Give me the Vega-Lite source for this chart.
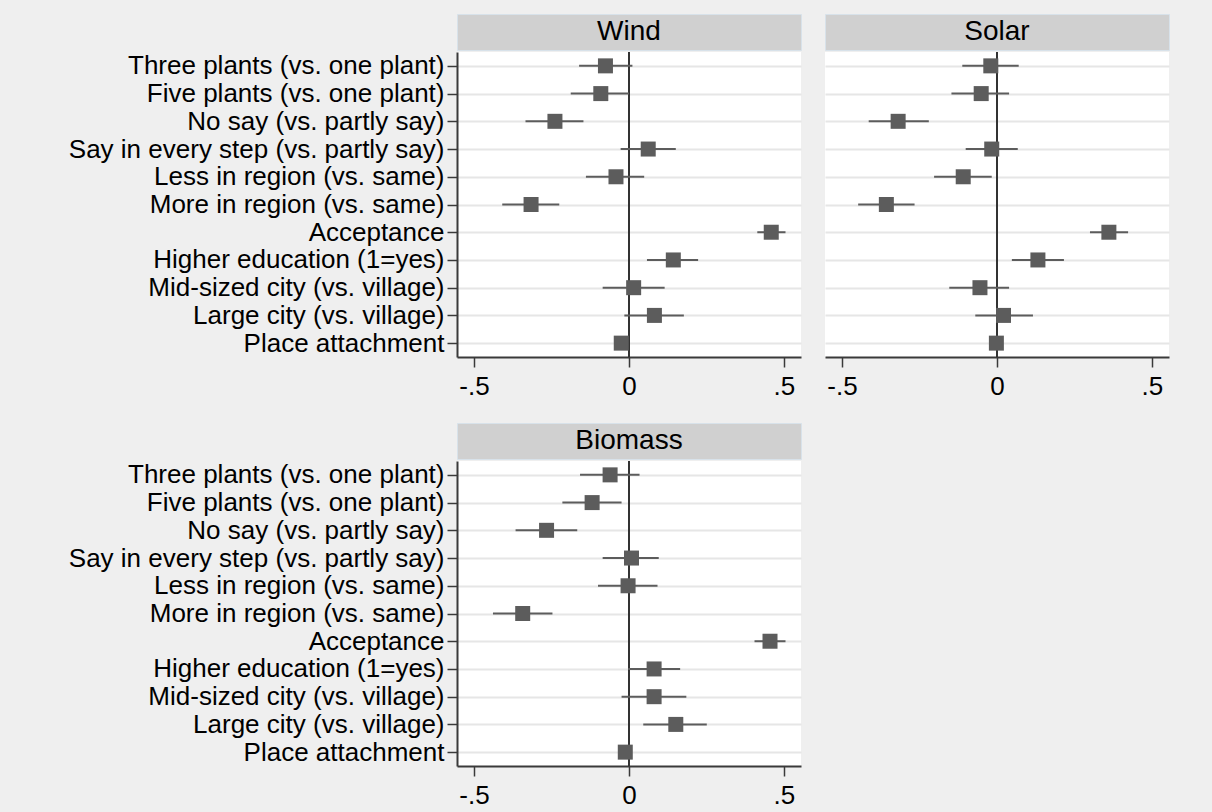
{
  "$schema": "https://vega.github.io/schema/vega-lite/v6.json",
  "background": "#efefef",
  "padding": {"left": 68, "top": 13, "right": 44, "bottom": 8},
  "config": {
    "font": "Liberation Sans",
    "axisY": {"grid": true, "gridColor": "#e6e6e6", "gridWidth": 2, "tickSize": 10, "labelPadding": 3, "labelFontSize": 26, "labelColor": "#000000", "domainColor": "#3a3a3a", "domainWidth": 2, "tickColor": "#3a3a3a", "tickWidth": 1.5, "labelLimit": 600, "title": null},
    "axisX": {"grid": false, "tickSize": 10, "labelPadding": 6, "labelFontSize": 26, "labelColor": "#000000", "domainColor": "#3a3a3a", "domainWidth": 2, "tickColor": "#3a3a3a", "tickWidth": 1.5, "title": null}
  },
  "datasets": {
    "coef": [
      {"panel": "Wind", "term": "Three plants (vs. one plant)", "b": -0.076, "lo": -0.161, "hi": 0.011},
      {"panel": "Wind", "term": "Five plants (vs. one plant)", "b": -0.091, "lo": -0.188, "hi": 0.0},
      {"panel": "Wind", "term": "No say (vs. partly say)", "b": -0.239, "lo": -0.334, "hi": -0.147},
      {"panel": "Wind", "term": "Say in every step (vs. partly say)", "b": 0.062, "lo": -0.027, "hi": 0.151},
      {"panel": "Wind", "term": "Less in region (vs. same)", "b": -0.042, "lo": -0.139, "hi": 0.049},
      {"panel": "Wind", "term": "More in region (vs. same)", "b": -0.316, "lo": -0.409, "hi": -0.225},
      {"panel": "Wind", "term": "Acceptance", "b": 0.459, "lo": 0.414, "hi": 0.505},
      {"panel": "Wind", "term": "Higher education (1=yes)", "b": 0.143, "lo": 0.058, "hi": 0.223},
      {"panel": "Wind", "term": "Mid-sized city (vs. village)", "b": 0.015, "lo": -0.085, "hi": 0.115},
      {"panel": "Wind", "term": "Large city (vs. village)", "b": 0.082, "lo": -0.015, "hi": 0.177},
      {"panel": "Wind", "term": "Place attachment", "b": -0.025, "lo": -0.035, "hi": -0.015},
      {"panel": "Solar", "term": "Three plants (vs. one plant)", "b": -0.02, "lo": -0.112, "hi": 0.07},
      {"panel": "Solar", "term": "Five plants (vs. one plant)", "b": -0.051, "lo": -0.147, "hi": 0.039},
      {"panel": "Solar", "term": "No say (vs. partly say)", "b": -0.319, "lo": -0.414, "hi": -0.22},
      {"panel": "Solar", "term": "Say in every step (vs. partly say)", "b": -0.017, "lo": -0.101, "hi": 0.067},
      {"panel": "Solar", "term": "Less in region (vs. same)", "b": -0.109, "lo": -0.203, "hi": -0.017},
      {"panel": "Solar", "term": "More in region (vs. same)", "b": -0.357, "lo": -0.448, "hi": -0.266},
      {"panel": "Solar", "term": "Acceptance", "b": 0.361, "lo": 0.3, "hi": 0.423},
      {"panel": "Solar", "term": "Higher education (1=yes)", "b": 0.132, "lo": 0.048, "hi": 0.216},
      {"panel": "Solar", "term": "Mid-sized city (vs. village)", "b": -0.055, "lo": -0.154, "hi": 0.039},
      {"panel": "Solar", "term": "Large city (vs. village)", "b": 0.021, "lo": -0.07, "hi": 0.116},
      {"panel": "Solar", "term": "Place attachment", "b": -0.002, "lo": -0.012, "hi": 0.008},
      {"panel": "Biomass", "term": "Three plants (vs. one plant)", "b": -0.061, "lo": -0.158, "hi": 0.034},
      {"panel": "Biomass", "term": "Five plants (vs. one plant)", "b": -0.119, "lo": -0.215, "hi": -0.024},
      {"panel": "Biomass", "term": "No say (vs. partly say)", "b": -0.266, "lo": -0.366, "hi": -0.167},
      {"panel": "Biomass", "term": "Say in every step (vs. partly say)", "b": 0.008, "lo": -0.085, "hi": 0.096},
      {"panel": "Biomass", "term": "Less in region (vs. same)", "b": -0.003, "lo": -0.1, "hi": 0.092},
      {"panel": "Biomass", "term": "More in region (vs. same)", "b": -0.343, "lo": -0.439, "hi": -0.247},
      {"panel": "Biomass", "term": "Acceptance", "b": 0.455, "lo": 0.405, "hi": 0.505},
      {"panel": "Biomass", "term": "Higher education (1=yes)", "b": 0.081, "lo": -0.003, "hi": 0.165},
      {"panel": "Biomass", "term": "Mid-sized city (vs. village)", "b": 0.081, "lo": -0.024, "hi": 0.185},
      {"panel": "Biomass", "term": "Large city (vs. village)", "b": 0.151, "lo": 0.046, "hi": 0.251},
      {"panel": "Biomass", "term": "Place attachment", "b": -0.012, "lo": -0.02, "hi": -0.004}
    ]
  },
  "spacing": 23,
  "vconcat": [
    {
      "spacing": 22,
      "hconcat": [
        {
          "spacing": 0,
          "vconcat": [
            {"width": 344, "height": 36, "view": {"fill": "#d0d0d0", "stroke": "#d8e2ea"}, "data": {"values": [{"title": "Wind"}]}, "mark": {"type": "text", "fontSize": 28, "color": "#000000", "baseline": "middle", "align": "center"}, "encoding": {"text": {"field": "title"}}},
            {
              "width": 344, "height": 305, "view": {"fill": "#ffffff", "stroke": null},
              "layer": [
                {"data": {"values": [{}]}, "mark": {"type": "rule", "color": "#333333", "strokeWidth": 2}, "encoding": {"x": {"datum": 0, "type": "quantitative", "scale": {"domain": [-0.555, 0.555], "nice": false, "zero": false}, "axis": {"values": [-0.5, 0, 0.5], "labelExpr": "replace(toString(datum.value), '0.', '.')"}, "title": null}}},
                {"data": {"name": "coef"}, "transform": [{"filter": "datum.panel === 'Wind'"}], "mark": {"type": "rule", "color": "#5c5c5c", "strokeWidth": 2}, "encoding": {"x": {"field": "lo", "type": "quantitative", "title": null}, "x2": {"field": "hi"}, "y": {"field": "term", "type": "nominal", "sort": ["Three plants (vs. one plant)", "Five plants (vs. one plant)", "No say (vs. partly say)", "Say in every step (vs. partly say)", "Less in region (vs. same)", "More in region (vs. same)", "Acceptance", "Higher education (1=yes)", "Mid-sized city (vs. village)", "Large city (vs. village)", "Place attachment"], "scale": {"type": "point", "padding": 0.5}, "title": null}}},
                {"data": {"name": "coef"}, "transform": [{"filter": "datum.panel === 'Wind'"}], "mark": {"type": "point", "shape": "square", "filled": true, "size": 225, "color": "#5c5c5c", "opacity": 1}, "encoding": {"x": {"field": "b", "type": "quantitative", "title": null}, "y": {"field": "term", "type": "nominal", "sort": ["Three plants (vs. one plant)", "Five plants (vs. one plant)", "No say (vs. partly say)", "Say in every step (vs. partly say)", "Less in region (vs. same)", "More in region (vs. same)", "Acceptance", "Higher education (1=yes)", "Mid-sized city (vs. village)", "Large city (vs. village)", "Place attachment"], "title": null}}}
              ]
            }
          ]
        },
        {
          "spacing": 0,
          "vconcat": [
            {"width": 344, "height": 36, "view": {"fill": "#d0d0d0", "stroke": "#d8e2ea"}, "data": {"values": [{"title": "Solar"}]}, "mark": {"type": "text", "fontSize": 28, "color": "#000000", "baseline": "middle", "align": "center"}, "encoding": {"text": {"field": "title"}}},
            {
              "width": 344, "height": 305, "view": {"fill": "#ffffff", "stroke": null},
              "layer": [
                {"data": {"values": [{}]}, "mark": {"type": "rule", "color": "#333333", "strokeWidth": 2}, "encoding": {"x": {"datum": 0, "type": "quantitative", "scale": {"domain": [-0.555, 0.555], "nice": false, "zero": false}, "axis": {"values": [-0.5, 0, 0.5], "labelExpr": "replace(toString(datum.value), '0.', '.')"}, "title": null}}},
                {"data": {"name": "coef"}, "transform": [{"filter": "datum.panel === 'Solar'"}], "mark": {"type": "rule", "color": "#5c5c5c", "strokeWidth": 2}, "encoding": {"x": {"field": "lo", "type": "quantitative", "title": null}, "x2": {"field": "hi"}, "y": {"field": "term", "type": "nominal", "sort": ["Three plants (vs. one plant)", "Five plants (vs. one plant)", "No say (vs. partly say)", "Say in every step (vs. partly say)", "Less in region (vs. same)", "More in region (vs. same)", "Acceptance", "Higher education (1=yes)", "Mid-sized city (vs. village)", "Large city (vs. village)", "Place attachment"], "scale": {"type": "point", "padding": 0.5}, "axis": {"labels": false, "ticks": false, "domain": false}, "title": null}}},
                {"data": {"name": "coef"}, "transform": [{"filter": "datum.panel === 'Solar'"}], "mark": {"type": "point", "shape": "square", "filled": true, "size": 225, "color": "#5c5c5c", "opacity": 1}, "encoding": {"x": {"field": "b", "type": "quantitative", "title": null}, "y": {"field": "term", "type": "nominal", "sort": ["Three plants (vs. one plant)", "Five plants (vs. one plant)", "No say (vs. partly say)", "Say in every step (vs. partly say)", "Less in region (vs. same)", "More in region (vs. same)", "Acceptance", "Higher education (1=yes)", "Mid-sized city (vs. village)", "Large city (vs. village)", "Place attachment"], "axis": {"labels": false, "ticks": false, "domain": false}, "title": null}}}
              ]
            }
          ]
        }
      ]
    },
    {
      "hconcat": [
        {
          "spacing": 0,
          "vconcat": [
            {"width": 344, "height": 36, "view": {"fill": "#d0d0d0", "stroke": "#d8e2ea"}, "data": {"values": [{"title": "Biomass"}]}, "mark": {"type": "text", "fontSize": 28, "color": "#000000", "baseline": "middle", "align": "center"}, "encoding": {"text": {"field": "title"}}},
            {
              "width": 344, "height": 305, "view": {"fill": "#ffffff", "stroke": null},
              "layer": [
                {"data": {"values": [{}]}, "mark": {"type": "rule", "color": "#333333", "strokeWidth": 2}, "encoding": {"x": {"datum": 0, "type": "quantitative", "scale": {"domain": [-0.555, 0.555], "nice": false, "zero": false}, "axis": {"values": [-0.5, 0, 0.5], "labelExpr": "replace(toString(datum.value), '0.', '.')"}, "title": null}}},
                {"data": {"name": "coef"}, "transform": [{"filter": "datum.panel === 'Biomass'"}], "mark": {"type": "rule", "color": "#5c5c5c", "strokeWidth": 2}, "encoding": {"x": {"field": "lo", "type": "quantitative", "title": null}, "x2": {"field": "hi"}, "y": {"field": "term", "type": "nominal", "sort": ["Three plants (vs. one plant)", "Five plants (vs. one plant)", "No say (vs. partly say)", "Say in every step (vs. partly say)", "Less in region (vs. same)", "More in region (vs. same)", "Acceptance", "Higher education (1=yes)", "Mid-sized city (vs. village)", "Large city (vs. village)", "Place attachment"], "scale": {"type": "point", "padding": 0.5}, "title": null}}},
                {"data": {"name": "coef"}, "transform": [{"filter": "datum.panel === 'Biomass'"}], "mark": {"type": "point", "shape": "square", "filled": true, "size": 225, "color": "#5c5c5c", "opacity": 1}, "encoding": {"x": {"field": "b", "type": "quantitative", "title": null}, "y": {"field": "term", "type": "nominal", "sort": ["Three plants (vs. one plant)", "Five plants (vs. one plant)", "No say (vs. partly say)", "Say in every step (vs. partly say)", "Less in region (vs. same)", "More in region (vs. same)", "Acceptance", "Higher education (1=yes)", "Mid-sized city (vs. village)", "Large city (vs. village)", "Place attachment"], "title": null}}}
              ]
            }
          ]
        }
      ]
    }
  ]
}
